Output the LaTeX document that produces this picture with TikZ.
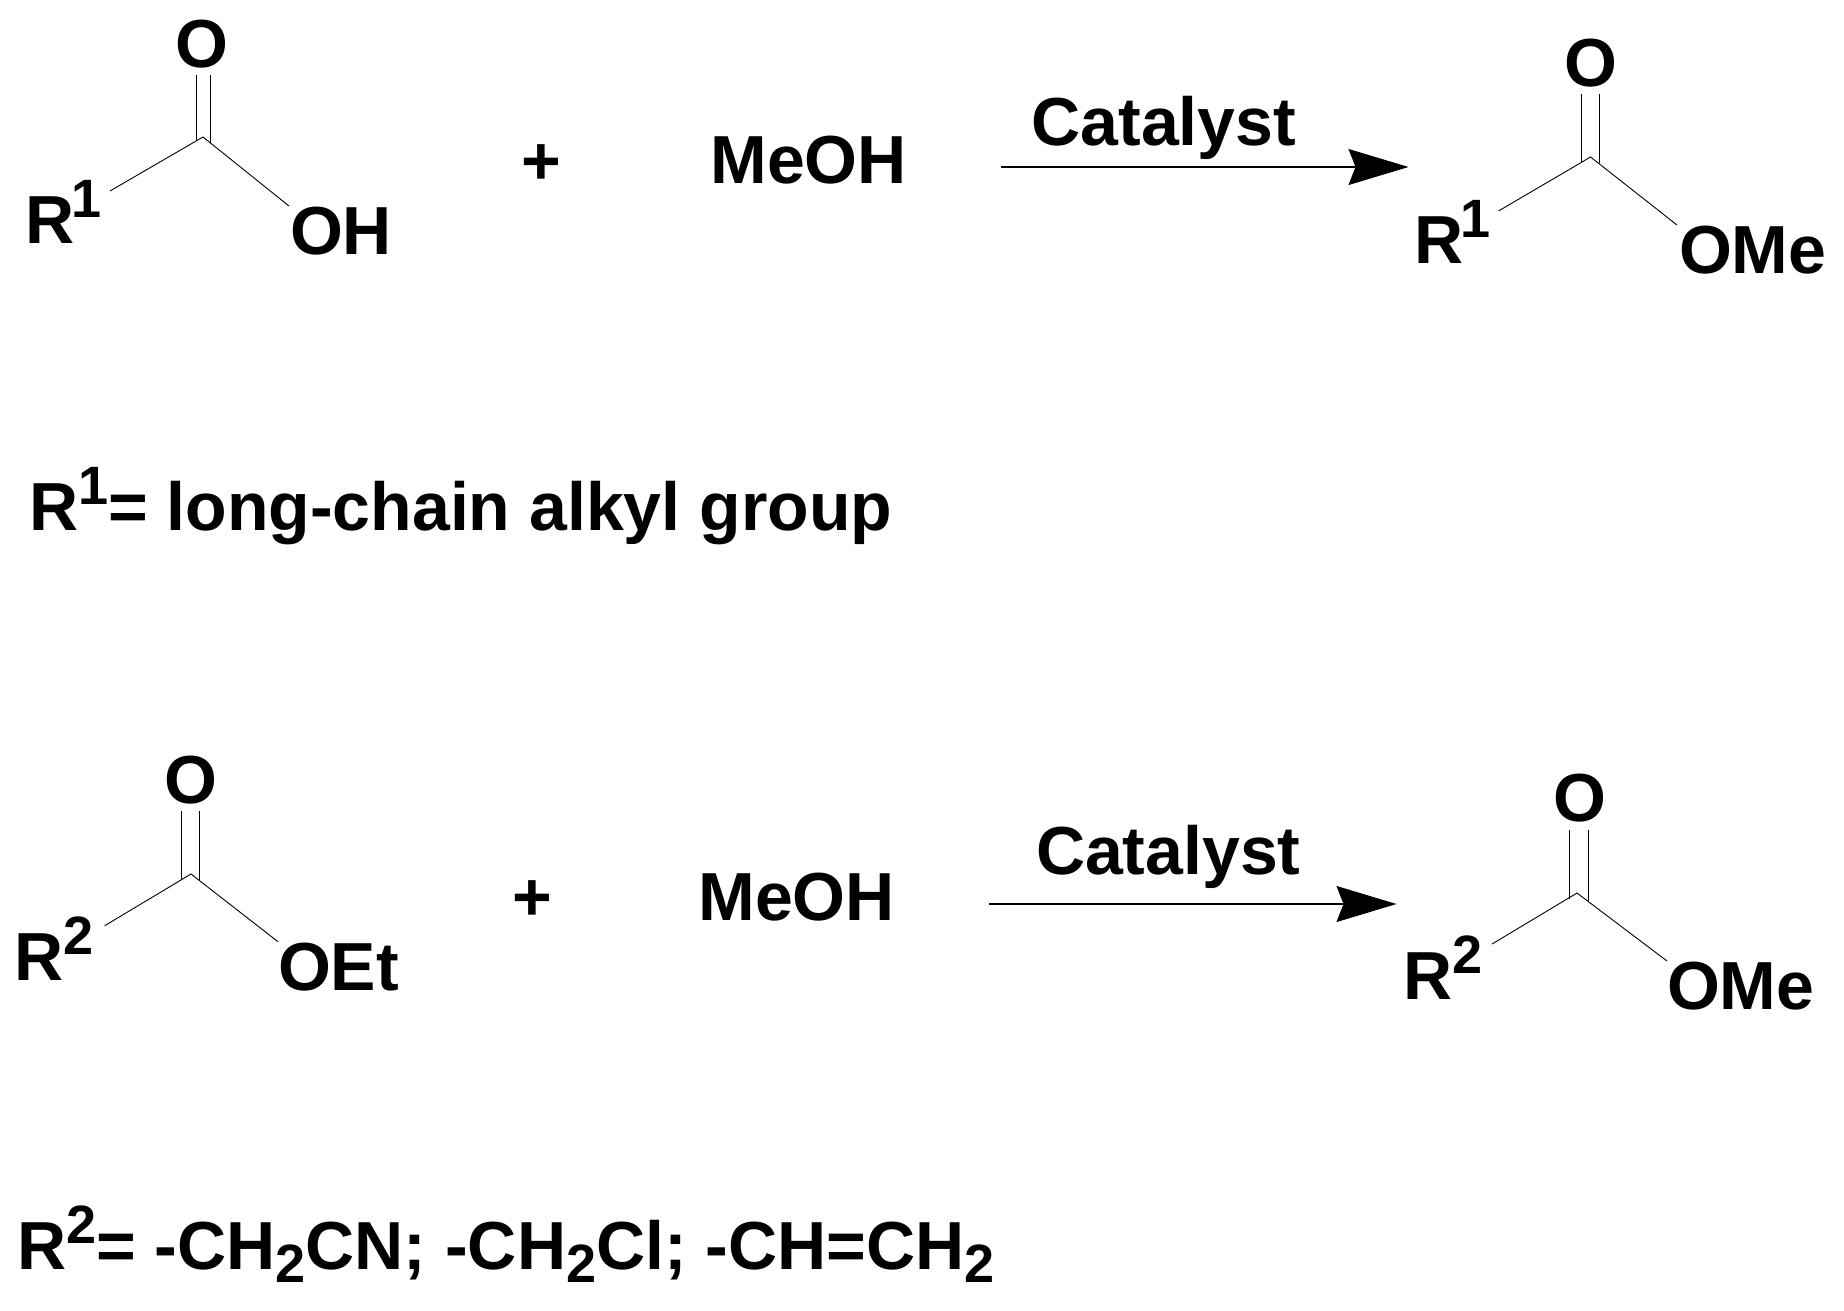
\documentclass[tikz,border=0pt]{standalone}
\usepackage{fontspec}
\setmainfont{Liberation Sans}[BoldFont={Liberation Sans Bold}]
\usetikzlibrary{arrows.meta}
\newcommand{\supx}[1]{\raisebox{26pt}{\fontsize{54}{54}\selectfont #1}}
\newcommand{\subx}[1]{\raisebox{-13pt}{\fontsize{54}{54}\selectfont #1}}
\tikzset{
  chem/.style={anchor=base west,inner sep=0pt,outer sep=0pt,font=\fontsize{68}{68}\selectfont\bfseries},
  oxy/.style={anchor=base,inner sep=0pt,outer sep=0pt,font=\fontsize{68}{68}\selectfont\bfseries},
  bond/.style={draw=black,line width=0.9pt},
  rxn/.style={draw=black,line width=1.2pt,-{Stealth[length=60pt,width=36pt,inset=7pt]}}
}
\begin{document}
\begin{tikzpicture}[x=1pt,y=-1pt]
\useasboundingbox (0,0) rectangle (1844,1310);
% Row 1, reactant
\node[oxy] (o1) at (202,67) {O};
\node[chem] (r1) at (25,243) {R\supx{\kern-3pt 1\kern3pt}};
\node[chem] (oh) at (290,254) {OH};
\coordinate (c1) at (203,137);
\coordinate (r1e) at (110,191);
\coordinate (ohe) at (289,206);
\coordinate (d1a) at (196,75);
\coordinate (d1b) at (196,141);
\coordinate (d1c) at (210.5,75);
\coordinate (d1d) at (210.5,143);
\draw[bond] (r1e) -- (c1) -- (ohe);
\draw[bond] (d1a) -- (d1b);
\draw[bond] (d1c) -- (d1d);
\node[chem] (plus1) at (521.5,184.5) {+};
\node[chem] (meoh1) at (710.5,183) {MeOH};
\node[chem] (cat1) at (1031.5,145) {Catalyst};
\coordinate (a1s) at (1000.5,167);
\coordinate (a1e) at (1408.5,167);
\draw[rxn] (a1s) -- (a1e);
% Row 1, product
\node[oxy] (o2) at (1590.5,86) {O};
\node[chem] (r2) at (1414.5,263) {R\supx{\kern-3pt 1\kern3pt}};
\node[chem] (ome1) at (1679,273) {OMe};
\coordinate (c2) at (1590.5,157);
\coordinate (r2e) at (1498.5,211);
\coordinate (ome1e) at (1677,225);
\coordinate (d2a) at (1581.5,94);
\coordinate (d2b) at (1581.5,162);
\coordinate (d2c) at (1599.5,94);
\coordinate (d2d) at (1599.5,163);
\draw[bond] (r2e) -- (c2) -- (ome1e);
\draw[bond] (d2a) -- (d2b);
\draw[bond] (d2c) -- (d2d);
% Definition of R1
\node[chem] (def1) at (29,530) {R\supx{1}= long-chain alkyl group};
% Row 2, reactant
\node[oxy] (o3) at (191,803) {O};
\node[chem] (r3) at (14,980) {R\supx{2}};
\node[chem] (oet) at (278,990) {OEt};
\coordinate (c3) at (191,874);
\coordinate (r3e) at (104.7,925.7);
\coordinate (oete) at (278,941.7);
\coordinate (d3a) at (181,811);
\coordinate (d3b) at (181,879);
\coordinate (d3c) at (199,811);
\coordinate (d3d) at (199,881);
\draw[bond] (r3e) -- (c3) -- (oete);
\draw[bond] (d3a) -- (d3b);
\draw[bond] (d3c) -- (d3d);
\node[chem] (plus2) at (512.5,920) {+};
\node[chem] (meoh2) at (698.5,920) {MeOH};
\node[chem] (cat2) at (1036,874) {Catalyst};
\coordinate (a2s) at (989.4,904);
\coordinate (a2e) at (1396.5,904);
\draw[rxn] (a2s) -- (a2e);
% Row 2, product
\node[oxy] (o4) at (1579.5,821) {O};
\node[chem] (r4) at (1403.5,999) {R\supx{2}};
\node[chem] (ome2) at (1667,1009) {OMe};
\coordinate (c4) at (1577,893);
\coordinate (r4e) at (1492,944);
\coordinate (ome2e) at (1667,961);
\coordinate (d4a) at (1569,830);
\coordinate (d4b) at (1569,899);
\coordinate (d4c) at (1588,830);
\coordinate (d4d) at (1588,901);
\draw[bond] (r4e) -- (c4) -- (ome2e);
\draw[bond] (d4a) -- (d4b);
\draw[bond] (d4c) -- (d4d);
% Definition of R2
\node[chem] (def2) at (17,1269) {R\supx{2}= -CH\subx{2}CN; -CH\subx{2}Cl; -CH=CH\subx{2}};
\end{tikzpicture}
\end{document}
